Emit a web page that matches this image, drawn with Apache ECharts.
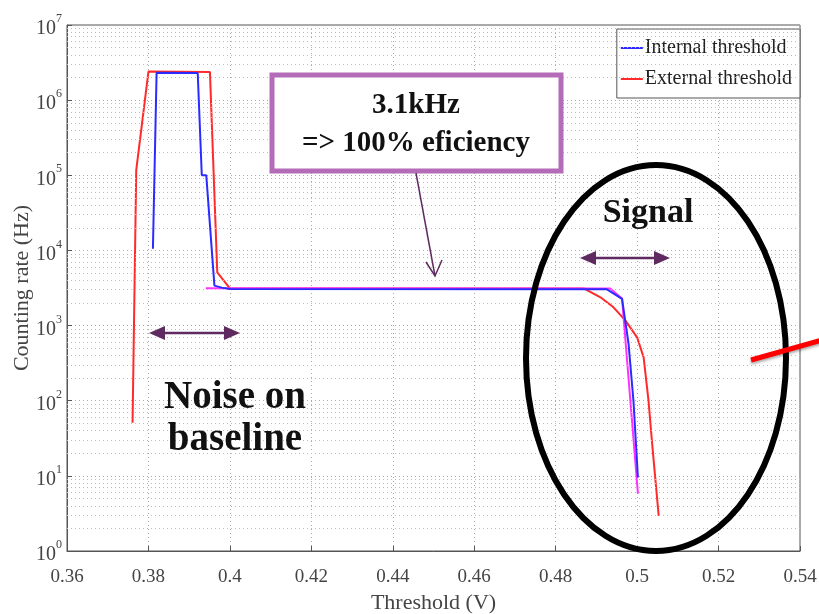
<!DOCTYPE html>
<html>
<head>
<meta charset="utf-8">
<script src="https://cdn.jsdelivr.net/npm/echarts@6/dist/echarts.min.js"></script>
<style>html,body{margin:0;padding:0;background:#fff}#c{width:819px;height:614px}</style>
</head>
<body>
<div id="c"></div>
<script>
// ---- data ----
const xTicks = [0.36, 0.38, 0.40, 0.42, 0.44, 0.46, 0.48, 0.50, 0.52, 0.54];
const yDecades = [0, 1, 2, 3, 4, 5, 6, 7];

const internalX = [0.3811, 0.3820, 0.3921, 0.3931, 0.3942, 0.3962, 0.3980, 0.4000, 0.4926, 0.4963, 0.4979, 0.4991, 0.5002];
const internalY = [10500, 2310000, 2300000, 100000, 100000, 3400, 3200, 3060, 3040, 2270, 570, 100, 9.5];

const externalX = [0.3761, 0.3770, 0.3800, 0.3951, 0.3969, 0.4000, 0.4869, 0.4910, 0.4942, 0.4971, 0.5000, 0.5016, 0.5028, 0.5037, 0.5053];
const externalY = [51, 117000, 2400000, 2360000, 5100, 3120, 3120, 2380, 1750, 1170, 698, 378, 100, 26.4, 2.93];

const overlayX = [0.3941, 0.4934, 0.4963, 0.5002];
const overlayY = [3150, 3120, 2290, 5.8];

const seriesNames = ['Internal threshold', 'External threshold'];

// ---- build ----
const zip = (xs, ys) => xs.map((x, i) => [x, ys[i]]);
const minorVals = [];
for (let d = 0; d < 7; d++) for (let m = 2; m <= 9; m++) minorVals.push(m * Math.pow(10, d));

const serif = '"Liberation Serif", "DejaVu Serif", serif';
const purple = '#5e2a60';

function dblArrow(x1, x2, y) {
  const L = 16, H = 7;
  return [
    { type: 'line', z: 100, shape: { x1: x1 + L - 2, y1: y, x2: x2 - L + 2, y2: y }, style: { stroke: purple, lineWidth: 2.5 } },
    { type: 'polygon', z: 100, shape: { points: [[x1, y], [x1 + L, y - H], [x1 + L, y + H]] }, style: { fill: purple } },
    { type: 'polygon', z: 100, shape: { points: [[x2, y], [x2 - L, y - H], [x2 - L, y + H]] }, style: { fill: purple } }
  ];
}

const chart = echarts.init(document.getElementById('c'));
chart.setOption({
  backgroundColor: '#fff',
  animation: false,
  grid: { left: 67, right: 19, top: 25, bottom: 63, containLabel: false, outerBoundsMode: 'none', show: true, borderColor: '#555', borderWidth: 1, backgroundColor: 'transparent' },
  legend: {
    orient: 'vertical', right: 19, top: 29,
    data: seriesNames,
    icon: 'rect',
    backgroundColor: '#fff', borderColor: '#555', borderWidth: 1, borderRadius: 0,
    padding: [9, 8, 9, 4], itemGap: 11, itemWidth: 22, itemHeight: 2,
    textStyle: { fontFamily: serif, fontSize: 20, color: '#222', padding: [0, 0, 0, -3] }
  },
  xAxis: {
    type: 'value', min: 0.36, max: 0.54, interval: 0.02,
    name: 'Threshold (V)', nameLocation: 'middle', nameGap: 41,
    nameTextStyle: { fontFamily: serif, fontSize: 22, color: '#444' },
    axisLine: { show: true, lineStyle: { color: '#555' } },
    axisTick: { show: true, inside: true, length: 5, lineStyle: { color: '#555' } },
    axisLabel: { fontFamily: serif, fontSize: 19, color: '#444', margin: 17, formatter: v => String(+v.toFixed(2)) },
    splitLine: { show: true, lineStyle: { type: [1, 3], color: '#aaa' } }
  },
  yAxis: {
    type: 'log', logBase: 10, min: 1, max: 1e7,
    name: 'Counting rate (Hz)', nameLocation: 'middle', nameGap: 34, nameMoveOverlap: false,
    nameTextStyle: { fontFamily: serif, fontSize: 22, color: '#444' },
    axisLine: { show: true, lineStyle: { color: '#555' } },
    axisTick: { show: true, inside: true, length: 5, lineStyle: { color: '#555' } },
    axisLabel: {
      margin: 5,
      formatter: v => '{b|10}{s|' + Math.round(Math.log10(v)) + '}',
      rich: {
        b: { fontFamily: serif, fontSize: 20, color: '#444', padding: [8, 0, 0, 0] },
        s: { fontFamily: serif, fontSize: 12, color: '#444', padding: [0, 0, 12, 0] }
      }
    },
    splitLine: { show: true, lineStyle: { type: [1, 3], color: '#aaa' } }
  },
  series: [
    {
      type: 'line', name: '_grid', data: [], silent: true, z: 1,
      markLine: {
        silent: true, symbol: 'none', label: { show: false },
        lineStyle: { type: [1, 3], color: '#bbb', width: 1 },
        data: minorVals.map(v => ({ yAxis: v }))
      }
    },
    {
      type: 'line', name: seriesNames[1], data: zip(externalX, externalY), symbol: 'none', z: 3,
      lineStyle: { color: '#ff2a2a', width: 2 }, itemStyle: { color: '#ff2a2a' }
    },
    {
      type: 'line', name: '_overlay', data: zip(overlayX, overlayY), symbol: 'none', z: 4,
      lineStyle: { color: '#ff33ff', width: 2 }
    },
    {
      type: 'line', name: seriesNames[0], data: zip(internalX, internalY), symbol: 'none', z: 5,
      lineStyle: { color: '#2b2bff', width: 2 }, itemStyle: { color: '#2b2bff' }
    }
  ],
  graphic: [
    // annotation box
    { type: 'rect', z: 100, shape: { x: 272, y: 75, width: 289, height: 96 }, style: { fill: '#fff', stroke: '#b56cb8', lineWidth: 5 } },
    { type: 'text', z: 101, x: 416, y: 106, style: { text: '3.1kHz', font: 'bold 29px ' + serif, fill: '#111', align: 'center', verticalAlign: 'middle' } },
    { type: 'text', z: 101, x: 416, y: 144, style: { text: '=> 100% eficiency', font: 'bold 29px ' + serif, fill: '#111', align: 'center', verticalAlign: 'middle' } },
    { type: 'line', z: 100, shape: { x1: 416, y1: 173, x2: 435, y2: 276 }, style: { stroke: purple, lineWidth: 1.5 } },
    { type: 'polyline', z: 100, shape: { points: [[426, 262], [435, 276], [442, 260]] }, style: { stroke: purple, lineWidth: 1.5, fill: null } },
    // Signal
    { type: 'text', z: 101, x: 648, y: 213, style: { text: 'Signal', font: 'bold 34px ' + serif, fill: '#111', align: 'center', verticalAlign: 'middle' } },
    ...dblArrow(580, 670, 258),
    // Noise
    { type: 'text', z: 101, x: 235, y: 398, style: { text: 'Noise on', font: 'bold 39px ' + serif, fill: '#111', align: 'center', verticalAlign: 'middle' } },
    { type: 'text', z: 101, x: 235, y: 440, style: { text: 'baseline', font: 'bold 39px ' + serif, fill: '#111', align: 'center', verticalAlign: 'middle' } },
    ...dblArrow(149, 240, 333),
    // ellipse
    { type: 'ellipse', z: 110, shape: { cx: 656, cy: 358, rx: 130, ry: 193 }, style: { fill: null, stroke: '#000', lineWidth: 6 } },
    // red pointer line
    { type: 'line', z: 120, shape: { x1: 751, y1: 360, x2: 822, y2: 340 }, style: { stroke: '#ff0000', lineWidth: 5, shadowBlur: 3, shadowColor: 'rgba(0,0,0,0.35)', shadowOffsetY: 2 } }
  ]
});
</script>
</body>
</html>
